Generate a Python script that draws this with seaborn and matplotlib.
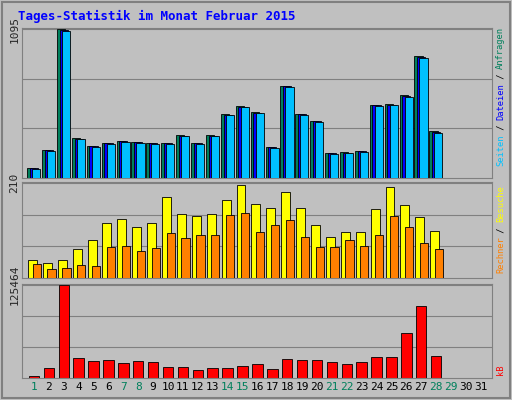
import matplotlib
matplotlib.use("Agg")
import matplotlib.pyplot as plt
import seaborn as sns
import numpy as np

sns.set_style("white")
plt.rcParams['font.family'] = ['DejaVu Sans Mono', 'DejaVu Sans']

days = list(range(1, 29))
all_days = list(range(1, 32))
green_days = [1, 7, 8, 14, 15, 21, 22, 28, 29]
hits = [74, 207, 1095, 296, 237, 259, 274, 266, 259, 259, 318, 259, 318, 474, 532, 488, 229, 681, 474, 422, 185, 192, 200, 540, 548, 614, 903, 348]
files = [72, 203, 1090, 290, 233, 255, 270, 262, 255, 255, 312, 255, 312, 468, 526, 482, 225, 675, 470, 418, 182, 188, 196, 535, 540, 608, 895, 340]
pages = [70, 200, 1085, 286, 230, 252, 266, 258, 252, 252, 308, 252, 308, 462, 520, 478, 222, 668, 465, 414, 180, 185, 192, 530, 535, 600, 888, 335]
visits = [40, 33, 40, 64, 84, 122, 130, 113, 122, 179, 141, 137, 141, 172, 206, 163, 155, 190, 155, 117, 91, 102, 102, 152, 201, 161, 135, 104]
sites = [31, 20, 22, 29, 27, 69, 71, 60, 66, 99, 88, 95, 95, 139, 144, 102, 117, 128, 91, 69, 69, 84, 71, 95, 137, 113, 77, 64]
kbytes = [2700, 13500, 125464, 27000, 23000, 24000, 20000, 23000, 21500, 15000, 15000, 11000, 13500, 13500, 16000, 19000, 12000, 25500, 24000, 24000, 21500, 19000, 21500, 28000, 28000, 60000, 97000, 29500]

BG = "#c0c0c0"
fig = plt.figure(figsize=(5.12, 4.0), dpi=100, facecolor=BG)
fig.add_artist(plt.Rectangle((0.004, 0.004), 0.992, 0.992, transform=fig.transFigure,
                             fill=False, ec="#808080", lw=1.5))
fig.text(0.035, 0.96, "Tages-Statistik im Monat Februar 2015", color="#0000ff",
         fontsize=9, fontweight="bold", va="center")

L, W = 0.043, 0.918
ax1 = fig.add_axes([L, 0.555, W, 0.375])
ax2 = fig.add_axes([L, 0.305, W, 0.24])
ax3 = fig.add_axes([L, 0.055, W, 0.235])
d = np.array(days)

def style(ax, top, label):
    ax.set_facecolor(BG)
    ax.set_xlim(0.2, 31.75)
    ax.set_ylim(0, top * 1.01)
    for f in (1/3, 2/3, 1.0):
        ax.axhline(top * f, color="#808080", lw=0.8, zorder=0)
    ax.set_yticks([top])
    ax.set_yticklabels([label], rotation=90, va="center", fontsize=8)
    ax.tick_params(axis="y", length=0, pad=2)
    ax.set_xticks([])
    for s in ax.spines.values():
        s.set_color("#808080")

style(ax1, 1095, "1095")
ax1.bar(d - 0.18, hits, width=0.55, color="#00805c", ec="black", lw=0.6, zorder=2)
ax1.bar(d, files, width=0.55, color="#0000ff", ec="black", lw=0.6, zorder=3)
ax1.bar(d + 0.15, pages, width=0.55, color="#00c0ff", ec="black", lw=0.6, zorder=4)

style(ax2, 210, "210")
ax2.bar(d - 0.1, visits, width=0.6, color="#ffff00", ec="black", lw=0.6, zorder=2)
ax2.bar(d + 0.18, sites, width=0.55, color="#ff8000", ec="black", lw=0.6, zorder=3)

style(ax3, 125464, "125464")
ax3.bar(d, kbytes, width=0.7, color="#ff0000", ec="black", lw=0.6, zorder=2)

ax3.set_xticks(all_days)
ax3.set_xticklabels([str(x) for x in all_days], fontsize=8)
ax3.tick_params(axis="x", length=0, pad=3)
for t, dd in zip(ax3.get_xticklabels(), all_days):
    t.set_color("#00805c" if dd in green_days else "black")

STEP = 0.0127
def rlabel(yc, parts):
    n = sum(len(p[0]) for p in parts)
    pos = yc - n * STEP / 2
    for txt, c in parts:
        fig.text(0.978, pos, txt, color=c, rotation=90, fontsize=6.3,
                 ha="center", va="bottom")
        pos += len(txt) * STEP

rlabel(0.757, [("Seiten", "#00c0ff"), (" / ", "black"), ("Dateien", "#0000ff"),
               (" / ", "black"), ("Anfragen", "#00805c")])
rlabel(0.425, [("Rechner", "#ff8000"), (" / ", "black"), ("Besuche", "#ffff00")])
rlabel(0.075, [("kB", "#ff0000")])

fig.savefig("out.png", dpi=100, facecolor=BG)
